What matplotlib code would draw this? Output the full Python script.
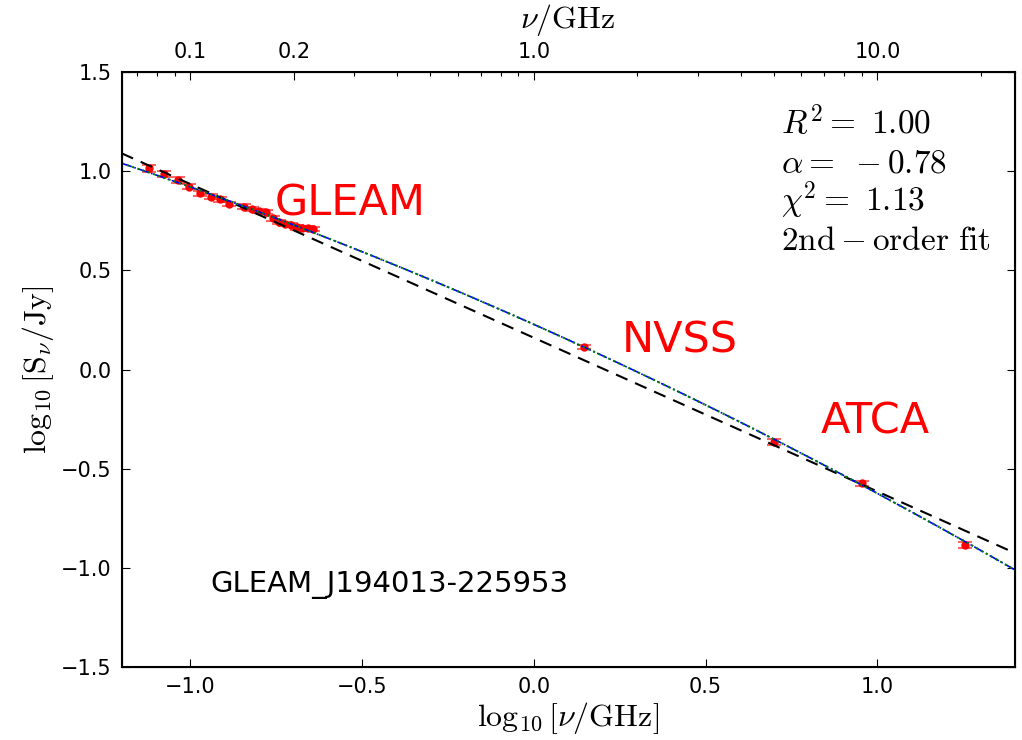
import numpy as np
import matplotlib
matplotlib.use('Agg')
import matplotlib.pyplot as plt

plt.rcParams['mathtext.fontset'] = 'cm'

# log10 frequency (GHz) and log10 flux density (Jy)
gleam_x = [-1.119, -1.076, -1.036, -1.004, -0.971, -0.939, -0.914, -0.886, -0.845, -0.821,
           -0.801, -0.780, -0.759, -0.742, -0.724, -0.706, -0.690, -0.674, -0.658, -0.644]
gleam_y = [1.014, 0.986, 0.955, 0.922, 0.888, 0.871, 0.858, 0.834, 0.821, 0.808,
           0.800, 0.794, 0.762, 0.745, 0.734, 0.728, 0.717, 0.712, 0.712, 0.708]
gleam_err = [0.016, 0.015, 0.014, 0.013, 0.013, 0.012, 0.012, 0.012, 0.011, 0.011,
             0.011, 0.011, 0.011, 0.011, 0.011, 0.011, 0.012, 0.012, 0.012, 0.012]
nvss_x = [0.146]
nvss_y = [0.113]
nvss_err = [0.012]
atca_x = [0.699, 0.954, 1.255]
atca_y = [-0.366, -0.573, -0.885]
atca_err = [0.014, 0.013, 0.015]

# fitted models
lin_coef = [-0.775, 0.160]          # slope, intercept
quad_coef = [-0.0796, -0.7726, 0.2275]

fig = plt.figure(figsize=(10.22, 7.4), dpi=100)
ax = fig.add_axes([0.119, 0.0986, 0.874, 0.8041])

x_all = gleam_x + nvss_x + atca_x
y_all = gleam_y + nvss_y + atca_y
e_all = gleam_err + nvss_err + atca_err
ax.errorbar(x_all, y_all, yerr=e_all, fmt='o', color='red', ms=5, mec='red',
            ecolor=(1, 0, 0, 0.6), elinewidth=2, capsize=5, capthick=1.5, zorder=2)

xf = np.linspace(-1.2, 1.4, 200)
ax.plot(xf, np.polyval(lin_coef, xf), color='black', ls=(0, (6, 4)), lw=1.5, zorder=3)
ax.plot(xf, np.polyval(quad_coef, xf), color='blue', ls='-.', lw=1.2, zorder=3)
ax.plot(xf, np.polyval(quad_coef, xf), color='green', ls=':', lw=1.5, zorder=3)

ax.set_xlim(-1.2, 1.4)
ax.set_ylim(-1.5, 1.5)
ax.set_xticks([-1.0, -0.5, 0.0, 0.5, 1.0])
ax.set_yticks([-1.5, -1.0, -0.5, 0.0, 0.5, 1.0, 1.5])
ax.tick_params(direction='in', right=True, top=False, labelsize=15,
               length=6, width=0.8, pad=7)
for s in ax.spines.values():
    s.set_linewidth(1.5)
ax.set_xlabel(r'$\log_{10}[\nu/\mathrm{GHz}]$', fontsize=23, labelpad=2)
ax.set_ylabel(r'$\log_{10}[\mathrm{S}_{\nu}/\mathrm{Jy}]$', fontsize=23, labelpad=4)

ax.text(-0.755, 0.779, 'GLEAM', color='red', fontsize=31)
ax.text(0.256, 0.088, 'NVSS', color='red', fontsize=31)
ax.text(0.835, -0.325, 'ATCA', color='red', fontsize=31)
ax.text(-0.941, -1.122, 'GLEAM_J194013-225953', color='black', fontsize=21)

stats = [r'$R^2 =\ 1.00$', r'$\alpha =\ -0.78$', r'$\chi^2 =\ 1.13$', r'$\mathrm{2nd-order\ fit}$']
for i, s in enumerate(stats):
    ax.text(0.719, 1.187 - 0.195 * i, s, fontsize=24)

ax2 = ax.twiny()
ax2.set_xscale('log')
ax2.set_xlim(10 ** -1.2, 10 ** 1.4)
ax2.set_xticks([0.1, 0.2, 1.0, 10.0])
ax2.set_xticklabels(['0.1', '0.2', '1.0', '10.0'])
ax2.tick_params(which='both', direction='in', labelsize=15, pad=7)
ax2.tick_params(which='major', length=6, width=0.8)
ax2.tick_params(which='minor', length=3, width=0.8)
ax2.set_xlabel(r'$\nu/\mathrm{GHz}$', fontsize=23, labelpad=10)

fig.savefig('out.png', dpi=100)
